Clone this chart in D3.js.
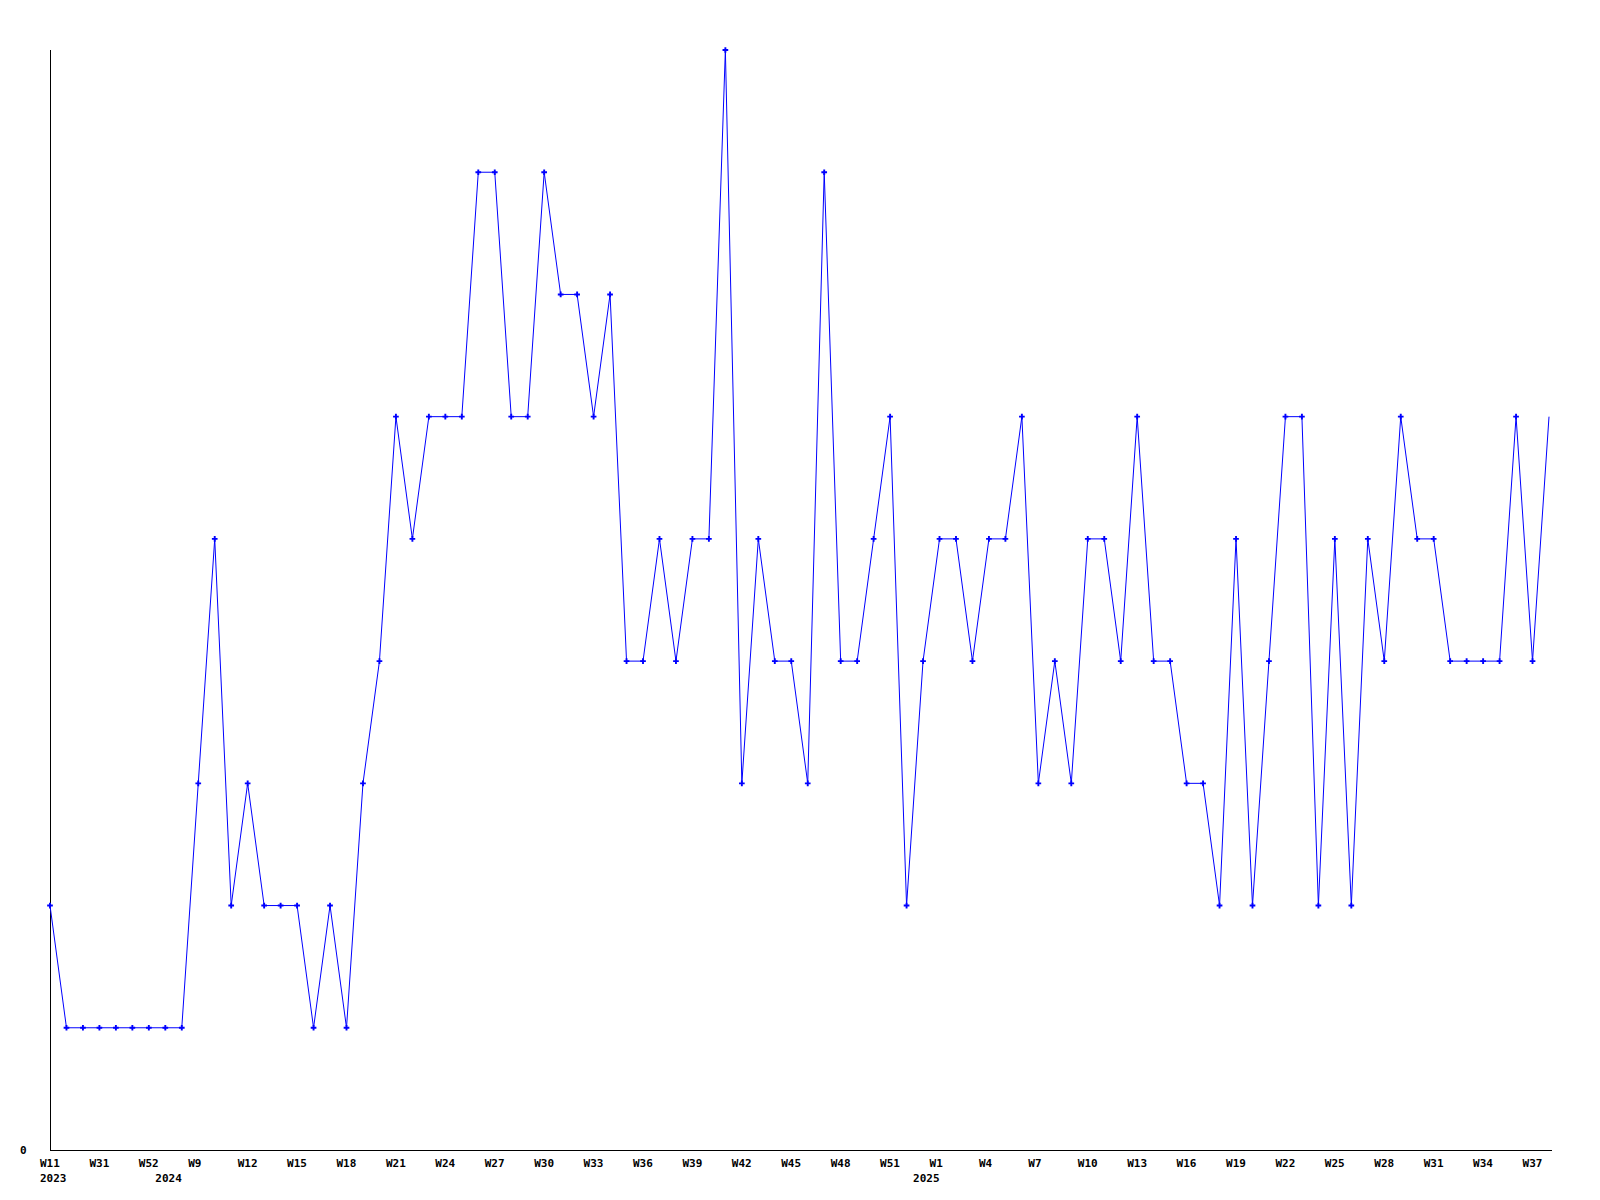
<!DOCTYPE html>
<html>
<head>
<meta charset="utf-8">
<script src="https://cdn.jsdelivr.net/npm/d3@7"></script>
<style>
  body { margin: 0; background: #fff; }
  text { font-family: "DejaVu Sans Mono", monospace; font-weight: bold; font-size: 11px; fill: #000; }
</style>
</head>
<body>
<div class="linechart"></div>
<script>
var svgWidth = 1600;
var svgHeight = 1200;

var margin = { top: 50, right: 49, bottom: 50, left: 50 };
var width = svgWidth - margin.left - margin.right;
var height = svgHeight - margin.top - margin.bottom;

// week number (sunday based) and year of every point
var weeks = ["W11", "W18", "W25", "W31", "W38", "W45", "W52",
  "W0", "W4", "W9", "W10", "W11", "W12", "W13", "W14", "W15", "W16", "W17", "W18", "W19",
  "W20", "W21", "W22", "W23", "W24", "W25", "W26", "W27", "W28", "W29", "W30", "W31",
  "W32", "W33", "W34", "W35", "W36", "W37", "W38", "W39", "W40", "W41", "W42", "W43",
  "W44", "W45", "W46", "W47", "W48", "W49", "W50", "W51", "W52",
  "W0", "W1", "W2", "W3", "W4", "W5", "W6", "W7", "W8", "W9", "W10", "W11", "W12",
  "W13", "W14", "W15", "W16", "W17", "W18", "W19", "W20", "W21", "W22", "W23", "W24",
  "W25", "W26", "W27", "W28", "W29", "W30", "W31", "W32", "W33", "W34", "W35", "W36",
  "W37", "W38"];
var years = [2023, 2023, 2023, 2023, 2023, 2023, 2023, 2024, 2024].concat(
  d3.range(44).map(() => 2024), d3.range(39).map(() => 2025));

var counts = [2, 1, 1, 1, 1, 1, 1, 1, 1, 3, 5, 2, 3, 2, 2, 2, 1, 2, 1, 3,
  4, 6, 5, 6, 6, 6, 8, 8, 6, 6, 8, 7, 7, 6, 7, 4, 4, 5, 4, 5,
  5, 9, 3, 5, 4, 4, 3, 8, 4, 4, 5, 6, 2, 4, 5, 5, 4, 5, 5, 6,
  3, 4, 3, 5, 5, 4, 6, 4, 4, 3, 3, 2, 5, 2, 4, 6, 6, 2, 5, 2,
  5, 4, 6, 5, 5, 4, 4, 4, 4, 6, 4, 6];

var yTicks = [0];

var svg = d3.select(".linechart")
  .append("svg")
  .attr("width", svgWidth)
  .attr("height", svgHeight);

var chartGroup = svg.append("g")
  .attr("transform", `translate(${margin.left}, ${margin.top})`);

var xScale = d3.scaleLinear()
  .domain([0, counts.length - 1])
  .range([0, width - 2]);

var yScale = d3.scaleLinear()
  .domain([0, 9])
  .range([height, 0]);

// axes lines
chartGroup.append("line")
  .attr("x1", 0.5).attr("x2", 0.5)
  .attr("y1", 0).attr("y2", height)
  .attr("stroke", "#000");
chartGroup.append("line")
  .attr("x1", 0).attr("x2", width + 1)
  .attr("y1", height + 0.5).attr("y2", height + 0.5)
  .attr("stroke", "#000");

// y tick label
chartGroup.selectAll(".ylab")
  .data(yTicks)
  .enter()
  .append("text")
  .attr("class", "ylab")
  .attr("x", -30)
  .attr("y", d => yScale(d) + 4)
  .text(d => d);

// week labels, every third point
var idx = d3.range(0, counts.length, 3);
chartGroup.selectAll(".wlab")
  .data(idx)
  .enter()
  .append("text")
  .attr("class", "wlab")
  .attr("x", i => xScale(i) - 10)
  .attr("y", height + 17)
  .text(i => weeks[i]);

// year labels where the year changes
var yearIdx = d3.range(counts.length).filter(i => i == 0 || years[i] != years[i - 1]);
chartGroup.selectAll(".ylab2")
  .data(yearIdx)
  .enter()
  .append("text")
  .attr("x", i => xScale(i) - 10)
  .attr("y", height + 32)
  .text(i => years[i]);

var line = d3.line()
  .x((d, i) => xScale(i))
  .y(d => yScale(d));

chartGroup.append("path")
  .datum(counts)
  .attr("fill", "none")
  .attr("stroke", "#0000ff")
  .attr("stroke-width", 1)
  .attr("d", line);

// markers (last point has none)
chartGroup.selectAll(".mark")
  .data(counts.slice(0, counts.length - 1))
  .enter()
  .append("path")
  .attr("class", "mark")
  .attr("d", d3.symbol().type(d3.symbolCross).size(18))
  .attr("transform", (d, i) => `translate(${xScale(i)}, ${yScale(d)})`)
  .attr("fill", "#0000ff");
</script>
</body>
</html>
